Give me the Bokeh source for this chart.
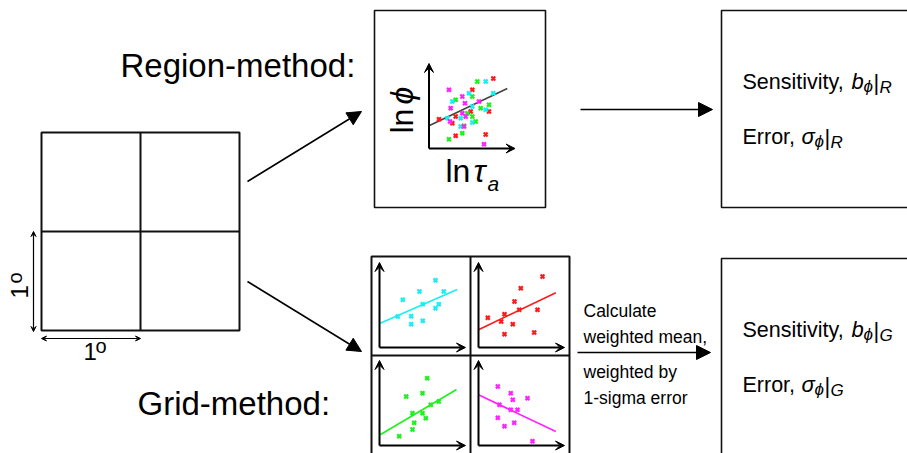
import numpy as np
from bokeh.plotting import figure
from bokeh.models import Range1d, Arrow, NormalHead, VeeHead
from bokeh.core.properties import value
from bokeh.embed import file_html
from bokeh.resources import INLINE

# ---------------- data (local mini-plot units) ----------------
region_red_x = [64.3, 43.3, 60.0, 41.7, 10.0, 26.7, 23.3, 26.7, 56.7]
region_red_y = [70.0, 58.7, 37.0, 37.0, 29.3, 32.0, 25.3, 12.7, 14.0]
region_green_x = [48.3, 26.7, 43.3, 60.0, 51.7, 38.3, 43.3, 46.7, 35.0, 33.3, 20.0]
region_green_y = [67.0, 48.7, 52.0, 43.7, 40.3, 35.3, 32.0, 27.0, 22.7, 15.3, 9.3]
region_cyan_x = [56.7, 40.0, 64.3, 23.3, 43.3, 56.7, 18.3, 31.7, 43.3, 31.7]
region_cyan_y = [67.0, 55.3, 55.3, 47.0, 42.0, 38.7, 30.3, 30.3, 26.0, 22.0]
region_magenta_x = [20.0, 33.3, 36.0, 50.0, 21.7, 33.3, 21.0, 36.7, 35.0, 55.0]
region_magenta_y = [58.7, 52.0, 45.3, 47.0, 40.3, 35.3, 27.0, 32.0, 22.0, 4.3]
region_fit_x = [0.0, 78.3]
region_fit_y = [22.7, 60.0]

grid_cyan_x = [56.0, 64.3, 40.0, 23.3, 43.3, 59.3, 56.0, 18.3, 31.7, 31.7, 43.3]
grid_cyan_y = [67.3, 56.0, 56.0, 47.7, 43.3, 43.3, 39.3, 31.0, 31.3, 23.3, 26.7]
grid_cyan_fit_x = [0.7, 77.7]
grid_cyan_fit_y = [24.3, 58.0]

grid_red_x = [64.0, 42.3, 36.0, 40.7, 59.0, 26.0, 9.3, 22.7, 34.3, 26.0, 55.7]
grid_red_y = [71.0, 59.3, 46.0, 37.7, 37.7, 33.3, 29.7, 26.0, 23.3, 13.3, 15.0]
grid_red_fit_x = [0.0, 77.3]
grid_red_fit_y = [17.7, 54.7]

grid_green_x = [47.7, 26.7, 43.0, 59.3, 51.3, 33.0, 43.0, 46.3, 34.7, 33.0, 19.7]
grid_green_y = [67.3, 49.0, 52.3, 44.0, 40.7, 32.3, 32.3, 27.3, 22.7, 16.0, 9.3]
grid_green_fit_x = [0.7, 77.0]
grid_green_fit_y = [10.7, 56.0]

grid_magenta_x = [19.3, 32.3, 34.3, 49.0, 21.0, 32.3, 39.0, 19.3, 35.7, 26.0, 54.0]
grid_magenta_y = [59.0, 52.3, 45.7, 47.3, 40.7, 35.7, 35.7, 27.7, 22.7, 19.3, 4.3]
grid_magenta_fit_x = [0.0, 77.3]
grid_magenta_fit_y = [50.7, 14.0]

# ---------------- canvas ----------------
W, H = 907, 453
FONT = value("Liberation Sans")
p = figure(width=W, height=H, x_range=Range1d(0, W), y_range=Range1d(H, 0),
           output_backend="svg", toolbar_location=None, min_border=0)
p.axis.visible = False
p.grid.visible = False
p.outline_line_color = None
p.background_fill_color = "white"
p.border_fill_color = "white"

CYAN, RED, GREEN, MAGENTA = "#19EEF5", "#FF1A1A", "#1FF01F", "#FF22FF"


def txt(x, y, s, size, italic=False, align="left", angle=0.0):
    p.text(x=[x], y=[y], text=[s], text_font=FONT, text_font_size=f"{size}px",
           text_font_style="italic" if italic else "normal", text_color="black",
           text_align=align, text_baseline="middle", angle=angle)


def box(l, r, t, b, w=1.6):
    p.quad(left=[l], right=[r], top=[t], bottom=[b], fill_color=None,
           line_color="#111111", line_width=w)


def arrow(x0, y0, x1, y1, size=12, w=1.6, vee=False):
    head = (VeeHead(size=size, fill_color="black", line_color="black", line_width=1) if vee
            else NormalHead(size=size, fill_color="black", line_color="black", line_width=1))
    p.add_layout(Arrow(end=head, x_start=x0, y_start=y0, x_end=x1, y_end=y1,
                       line_color="black", line_width=w))


def mini_plot(ox, oy, series, fits):
    arrow(ox, oy, ox, oy - 85, size=9, w=2, vee=True)
    arrow(ox, oy, ox + 86, oy, size=9, w=2, vee=True)
    for (fx, fy, c) in fits:
        p.line(x=ox + np.array(fx), y=oy - np.array(fy), line_color=c, line_width=1.6)
    for (sx, sy, c) in series:
        p.scatter(x=ox + np.array(sx), y=oy - np.array(sy), marker="x", size=5.5,
                  line_width=2.2, line_color=c)


# ---- left 1x1 degree grid ----
box(41, 239, 132, 330, w=2)
p.segment(x0=[140, 41], y0=[132, 231], x1=[140, 239], y1=[330, 231], line_color="#111111", line_width=2)
p.add_layout(Arrow(start=VeeHead(size=5, fill_color="black"), end=VeeHead(size=5, fill_color="black"),
                   x_start=33, y_start=231, x_end=33, y_end=331, line_width=1.2))
p.add_layout(Arrow(start=VeeHead(size=5, fill_color="black"), end=VeeHead(size=5, fill_color="black"),
                   x_start=41, y_start=338, x_end=140, y_end=338, line_width=1.2))
txt(83, 351, "1", 24)
txt(95, 345, "o", 20)
txt(19, 298, "1", 24, angle=np.pi / 2)
txt(14, 283, "o", 20, angle=np.pi / 2)

# ---- method labels ----
txt(120, 65, "Region-method:", 33)
txt(137, 403, "Grid-method:", 33)

# ---- arrows from grid ----
arrow(247, 181, 361, 111, size=14)
arrow(247, 281, 361, 351, size=14)

# ---- region panel ----
box(374, 545, 10, 207)
mini_plot(428.5, 148,
          [(region_red_x, region_red_y, RED), (region_green_x, region_green_y, GREEN),
           (region_cyan_x, region_cyan_y, CYAN), (region_magenta_x, region_magenta_y, MAGENTA)],
          [(region_fit_x, region_fit_y, "#444444")])
txt(401, 133, "ln", 32, angle=np.pi / 2)
txt(401, 104, "ϕ", 32, italic=True, angle=np.pi / 2)
txt(445, 170, "ln", 32)
txt(473, 170, "τ", 32, italic=True)
txt(487, 183, "a", 21, italic=True)

# ---- grid panel ----
box(371, 569, 256, 470, w=2)
p.segment(x0=[470, 371], y0=[256, 355], x1=[470, 569], y1=[470, 355], line_color="#111111", line_width=2)
mini_plot(379, 347, [(grid_cyan_x, grid_cyan_y, CYAN)], [(grid_cyan_fit_x, grid_cyan_fit_y, CYAN)])
mini_plot(478, 347, [(grid_red_x, grid_red_y, RED)], [(grid_red_fit_x, grid_red_fit_y, RED)])
mini_plot(379, 445, [(grid_green_x, grid_green_y, GREEN)], [(grid_green_fit_x, grid_green_fit_y, GREEN)])
mini_plot(478, 445, [(grid_magenta_x, grid_magenta_y, MAGENTA)], [(grid_magenta_fit_x, grid_magenta_fit_y, MAGENTA)])

# ---- arrows to results ----
arrow(580, 109, 712, 109, size=14)
arrow(577, 352, 710, 352, size=14)
txt(583, 310, "Calculate", 17.5)
txt(583, 336, "weighted mean,", 17.5)
txt(583, 371, "weighted by", 17.5)
txt(583, 397, "1-sigma error", 17.5)

# ---- result boxes ----
box(721, 930, 10, 207)
box(721, 930, 258, 480)
for (yc, sub) in [(81, "R"), (329, "G")]:
    txt(742, yc, "Sensitivity,", 21.5)
    txt(851, yc, "b", 22, italic=True)
    txt(863, yc + 5, "ϕ", 17, italic=True)
    txt(873, yc + 1, "|", 22)
    txt(879, yc + 6, sub, 17, italic=True)
for (yc, sub) in [(136, "R"), (384, "G")]:
    txt(742, yc, "Error,", 21.5)
    txt(801, yc, "σ", 22, italic=True)
    txt(814, yc + 5, "ϕ", 17, italic=True)
    txt(824, yc + 1, "|", 22)
    txt(830, yc + 6, sub, 17, italic=True)

open("out.html", "w").write(file_html(p, INLINE))
